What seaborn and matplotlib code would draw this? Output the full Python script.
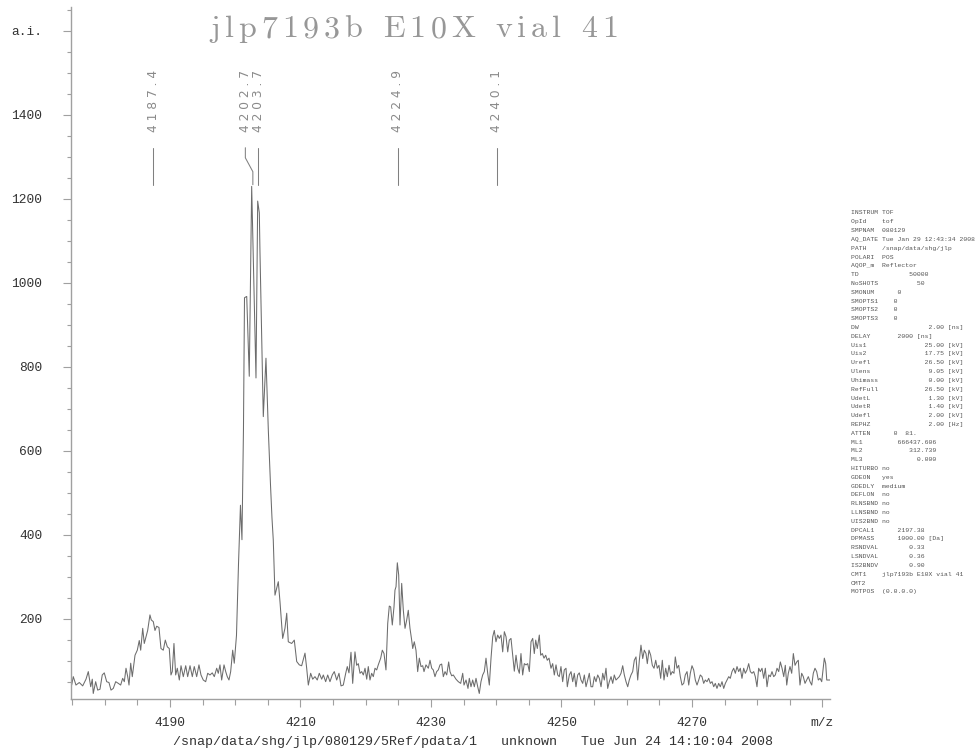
import matplotlib
matplotlib.use("Agg")
import matplotlib.pyplot as plt
from matplotlib.ticker import FixedLocator, MultipleLocator
import seaborn as sns

# ---- spectrum: m/z and intensity (a.i.) ----
mz = [4174.93, 4175.18, 4175.59, 4176.10, 4176.62, 4177.13, 4177.48, 4177.85, 4178.09, 4178.24,
      4178.61, 4178.92, 4179.27, 4179.62, 4179.93, 4180.30, 4180.65, 4180.96, 4181.31, 4181.68,
      4182.08, 4182.44, 4182.75, 4183.00, 4183.26, 4183.52, 4183.72, 4183.98, 4184.22, 4184.64,
      4184.99, 4185.29, 4185.51, 4185.82, 4186.06, 4186.32, 4186.58, 4186.93, 4187.13, 4187.44,
      4187.70, 4187.96, 4188.31, 4188.62, 4188.97, 4189.28, 4189.59, 4189.89, 4190.15, 4190.35,
      4190.61, 4190.87, 4191.12, 4191.43, 4191.69, 4192.04, 4192.41, 4192.71, 4193.07, 4193.42,
      4193.72, 4194.09, 4194.44, 4194.75, 4195.10, 4195.47, 4195.78, 4196.13, 4196.48, 4196.79,
      4197.16, 4197.40, 4197.66, 4197.92, 4198.28, 4198.54, 4198.78, 4199.04, 4199.30, 4199.61,
      4199.85, 4200.19, 4200.50, 4200.80, 4201.03, 4201.26, 4201.42, 4201.76, 4202.15, 4202.52,
      4203.18, 4203.44, 4203.69, 4203.79, 4204.30, 4204.71, 4205.07, 4205.40, 4205.63, 4205.83,
      4206.09, 4206.60, 4206.86, 4207.27, 4207.62, 4207.89, 4208.13, 4208.65, 4209.05, 4209.42,
      4209.82, 4210.18, 4210.69, 4210.95, 4211.20, 4211.56, 4211.87, 4212.22, 4212.57, 4212.88,
      4213.25, 4213.50, 4213.86, 4214.17, 4214.52, 4214.87, 4215.18, 4215.55, 4215.90, 4216.21,
      4216.56, 4216.93, 4217.17, 4217.43, 4217.74, 4218.00, 4218.35, 4218.61, 4218.86, 4219.12,
      4219.38, 4219.63, 4219.89, 4220.15, 4220.39, 4220.65, 4220.91, 4221.16, 4221.42, 4221.68,
      4221.92, 4222.29, 4222.54, 4222.80, 4223.10, 4223.37, 4223.61, 4223.82, 4224.07, 4224.33,
      4224.48, 4224.64, 4224.84, 4225.05, 4225.25, 4225.51, 4225.76, 4226.02, 4226.28, 4226.52,
      4226.78, 4227.04, 4227.20, 4227.44, 4227.70, 4227.96, 4228.21, 4228.47, 4228.73, 4228.93,
      4229.23, 4229.59, 4229.85, 4230.11, 4230.35, 4230.61, 4230.87, 4231.12, 4231.38, 4231.64,
      4231.89, 4232.15, 4232.41, 4232.71, 4232.91, 4233.17, 4233.42, 4233.83, 4234.19, 4234.55,
      4234.86, 4235.06, 4235.37, 4235.67, 4235.87, 4236.13, 4236.39, 4236.64, 4236.90, 4237.16,
      4237.40, 4237.66, 4237.92, 4238.17, 4238.43, 4238.69, 4238.94, 4239.20, 4239.46, 4239.70,
      4239.96, 4240.22, 4240.47, 4240.73, 4240.99, 4241.24, 4241.50, 4241.76, 4242.00, 4242.26,
      4242.52, 4242.77, 4243.03, 4243.29, 4243.54, 4243.79, 4244.05, 4244.30, 4244.56, 4244.82,
      4245.07, 4245.33, 4245.59, 4245.83, 4246.05, 4246.29, 4246.60, 4246.81, 4247.06, 4247.32,
      4247.58, 4247.82, 4248.09, 4248.39, 4248.65, 4248.90, 4249.16, 4249.42, 4249.66, 4249.92,
      4250.18, 4250.43, 4250.69, 4250.89, 4251.20, 4251.46, 4251.72, 4251.96, 4252.22, 4252.48,
      4252.73, 4252.99, 4253.25, 4253.50, 4253.76, 4254.02, 4254.26, 4254.52, 4254.78, 4255.03,
      4255.29, 4255.55, 4255.80, 4256.06, 4256.32, 4256.56, 4256.82, 4257.08, 4257.33, 4257.59,
      4257.85, 4258.09, 4258.35, 4258.61, 4258.86, 4259.12, 4259.38, 4259.63, 4259.89, 4260.15,
      4260.39, 4260.65, 4260.91, 4261.16, 4261.42, 4261.68, 4261.93, 4262.18, 4262.45, 4262.69,
      4262.95, 4263.15, 4263.41, 4263.67, 4263.92, 4264.18, 4264.44, 4264.68, 4264.94, 4265.20,
      4265.45, 4265.71, 4265.97, 4266.22, 4266.48, 4266.74, 4266.98, 4267.24, 4267.44, 4267.70,
      4267.96, 4268.21, 4268.47, 4268.73, 4268.97, 4269.24, 4269.50, 4269.74, 4270.00, 4270.26,
      4270.51, 4270.77, 4271.03, 4271.27, 4271.53, 4271.79, 4272.04, 4272.30, 4272.56, 4272.81,
      4273.07, 4273.33, 4273.57, 4273.83, 4274.09, 4274.34, 4274.60, 4274.86, 4275.11, 4275.37,
      4275.63, 4275.87, 4276.13, 4276.39, 4276.64, 4276.90, 4277.16, 4277.40, 4277.66, 4277.92,
      4278.17, 4278.43, 4278.69, 4278.94, 4279.20, 4279.46, 4279.70, 4279.96, 4280.22, 4280.47,
      4280.73, 4280.99, 4281.24, 4281.50, 4281.76, 4282.00, 4282.26, 4282.52, 4282.77, 4283.03,
      4283.29, 4283.54, 4283.80, 4284.06, 4284.30, 4284.52, 4284.76, 4285.02, 4285.28, 4285.53,
      4285.79, 4286.05, 4286.29, 4286.55, 4286.81, 4287.06, 4287.32, 4287.58, 4287.83, 4288.09,
      4288.35, 4288.59, 4288.85, 4289.11, 4289.36, 4289.62, 4289.88, 4290.13, 4290.28, 4290.49,
      4290.65, 4291.15]

intensity = [42, 62, 42, 48, 40, 56, 74, 38, 56, 22,
             50, 30, 32, 66, 71, 50, 48, 30, 34, 50,
             46, 42, 58, 50, 82, 62, 42, 94, 62, 113,
             125, 148, 125, 177, 141, 157, 172, 209, 197, 193,
             172, 182, 179, 129, 125, 149, 133, 129, 66, 74,
             141, 66, 82, 54, 88, 62, 88, 62, 88, 62,
             86, 62, 90, 66, 54, 50, 70, 66, 71, 62,
             82, 70, 90, 54, 90, 74, 62, 54, 74, 125,
             94, 160, 330, 470, 388, 650, 964, 967, 777, 1229,
             773, 1194, 1166, 1074, 681, 820, 649, 520, 440, 387,
             256, 288, 240, 153, 177, 213, 145, 141, 149, 98,
             90, 88, 118, 82, 42, 70, 56, 62, 54, 70,
             56, 66, 50, 66, 50, 66, 74, 54, 70, 40,
             42, 70, 86, 71, 120, 46, 121, 89, 93, 70,
             74, 66, 82, 56, 86, 54, 70, 62, 82, 78,
             90, 106, 125, 117, 78, 189, 230, 228, 185, 228,
             268, 276, 333, 304, 185, 284, 220, 177, 197, 220,
             177, 149, 129, 145, 125, 74, 106, 86, 88, 74,
             90, 82, 101, 82, 78, 62, 74, 78, 90, 92,
             62, 74, 66, 97, 74, 64, 66, 56, 50, 46,
             70, 42, 54, 34, 58, 38, 54, 38, 58, 38,
             22, 50, 66, 74, 106, 70, 42, 106, 157, 172,
             145, 161, 153, 161, 121, 169, 157, 121, 149, 153,
             113, 75, 113, 82, 70, 117, 66, 93, 90, 93,
             74, 145, 153, 117, 149, 129, 161, 113, 117, 106,
             113, 101, 106, 82, 93, 66, 90, 66, 62, 86,
             50, 78, 82, 38, 66, 74, 50, 70, 38, 66,
             71, 54, 46, 66, 38, 54, 70, 38, 38, 62,
             50, 66, 58, 38, 70, 54, 82, 34, 50, 62,
             46, 66, 54, 58, 62, 70, 88, 66, 50, 38,
             54, 66, 74, 101, 109, 54, 101, 137, 105, 125,
             117, 93, 125, 113, 89, 82, 101, 82, 89, 58,
             101, 54, 82, 62, 89, 66, 74, 70, 109, 82,
             89, 62, 42, 46, 66, 74, 42, 70, 88, 78,
             54, 42, 54, 66, 62, 46, 54, 50, 58, 46,
             50, 38, 46, 34, 46, 38, 50, 34, 46, 54,
             62, 58, 74, 82, 70, 86, 74, 82, 58, 82,
             70, 78, 93, 74, 70, 74, 62, 38, 82, 74,
             82, 58, 82, 38, 66, 62, 74, 62, 66, 82,
             74, 97, 82, 62, 89, 42, 70, 86, 70, 117,
             89, 97, 101, 42, 70, 62, 46, 54, 62, 50,
             42, 70, 82, 74, 54, 58, 50, 86, 106, 93,
             54, 54]

# ---- annotated peaks ----
peak_mz = [4187.4, 4202.7, 4203.7, 4224.9, 4240.1]
peak_label_shift = [0.0, -1.15, -0.2, 0.0, 0.0]  # sideways nudge so close labels do not collide

# ---- axis ticks ----
x_major = [4190, 4210, 4230, 4250, 4270, 4290]
x_major_labels = ["4190", "4210", "4230", "4250", "4270", "m/z"]
y_major = [200, 400, 600, 800, 1000, 1200, 1400, 1600]
y_major_labels = ["200", "400", "600", "800", "1000", "1200", "1400", "a.i."]

title = "jlp7193b E10X vial 41"
footer = "/snap/data/shg/jlp/080129/5Ref/pdata/1   unknown   Tue Jun 24 14:10:04 2008"

acq_params = [
    "INSTRUM TOF",
    "OpId    tof",
    "SMPNAM  080129",
    "AQ_DATE Tue Jan 29 12:43:34 2008",
    "PATH    /snap/data/shg/jlp",
    "POLARI  POS",
    "AQOP_m  Reflector",
    "TD             50000",
    "NoSHOTS          50",
    "SMONUM      0",
    "SMOPTS1    0",
    "SMOPTS2    0",
    "SMOPTS3    0",
    "DW                  2.00 [ns]",
    "DELAY       2000 [ns]",
    "Uis1               25.00 [kV]",
    "Uis2               17.75 [kV]",
    "Urefl              26.50 [kV]",
    "Ulens               9.05 [kV]",
    "Uhimass             0.00 [kV]",
    "RefFull            26.50 [kV]",
    "UdetL               1.30 [kV]",
    "UdetR               1.40 [kV]",
    "Udefl               2.00 [kV]",
    "REPHZ               2.00 [Hz]",
    "ATTEN      0  81.",
    "ML1         666437.606",
    "ML2            312.739",
    "ML3              0.000",
    "HITURBO no",
    "GDEON   yes",
    "GDEDLY  medium",
    "DEFLON  no",
    "RLNSBND no",
    "LLNSBND no",
    "UIS2BND no",
    "DPCAL1      2197.38",
    "DPMASS      1000.00 [Da]",
    "RSNDVAL        0.33",
    "LSNDVAL        0.36",
    "IS2BNDV        0.90",
    "CMT1    jlp7193b E10X vial 41",
    "CMT2",
    "MOTPOS  (0.0.0.0)",
]

# ---- figure ----
W, H = 979, 755
DPI = 100
sns.set_style("ticks")
plt.rcParams["font.family"] = ["Liberation Mono", "DejaVu Sans"]

fig = plt.figure(figsize=(W / DPI, H / DPI), dpi=DPI)
ax = fig.add_axes([71 / W, 1 - 699 / H, (830 - 71) / W, (699 - 7) / H])

trace_color = "#6c6c6c"
axis_color = "#a0a0a0"
sns.lineplot(x=mz, y=intensity, ax=ax, color=trace_color, linewidth=0.75,
             estimator=None, sort=False)

ax.set_xlim(4174.83, 4291.15)
ax.set_ylim(8.8, 1656)
ax.set_xlabel("")
ax.set_ylabel("")

for side in ("top", "right"):
    ax.spines[side].set_visible(False)
for side in ("left", "bottom"):
    ax.spines[side].set_color(axis_color)
    ax.spines[side].set_linewidth(1.0)

ax.xaxis.set_major_locator(FixedLocator(x_major))
ax.xaxis.set_minor_locator(MultipleLocator(5))
ax.set_xticklabels(x_major_labels)
ax.yaxis.set_major_locator(FixedLocator(y_major))
ax.yaxis.set_minor_locator(MultipleLocator(50))
ax.set_yticklabels(y_major_labels)

ax.tick_params(axis="x", which="major", length=5.8, width=0.8, color=axis_color,
               pad=7, labelsize=9.3, labelcolor="#333333")
ax.tick_params(axis="x", which="minor", length=4.3, width=0.8, color=axis_color)
ax.tick_params(axis="y", which="major", length=5.5, width=0.8, color=axis_color,
               pad=15, labelsize=9.3, labelcolor="#333333")
ax.tick_params(axis="y", which="minor", length=3.1, width=0.8, color=axis_color)

# ---- peak markers with rotated mass labels ----
mark_top, mark_bend_hi, mark_bend_lo, mark_bottom = 1321, 1297, 1264, 1233
label_base = 1359
for m, shift in zip(peak_mz, peak_label_shift):
    if abs(shift) > 0.5:
        xs = [m + shift, m + shift, m, m]
        ys = [mark_top, mark_bend_hi, mark_bend_lo, mark_bottom]
    else:
        xs = [m + shift, m + shift]
        ys = [mark_top, mark_bottom]
    ax.plot(xs, ys, color="#808080", linewidth=0.75, clip_on=False)
    ax.text(m + shift, label_base, " ".join(f"{m:.1f}"), rotation=90,
            ha="center", va="bottom", fontsize=8.8, color="#8a8a8a",
            family=["DejaVu Sans"])

# ---- letter-spaced title ----
def spaced_text(text, center_px, baseline_px, total_px, size, color, family):
    renderer = fig.canvas.get_renderer()
    em = size * DPI / 72.0
    pieces = []
    for ch in text:
        if ch == " ":
            pieces.append((None, 0.333 * em))
        else:
            t = fig.text(0, 0, ch, fontsize=size, color=color, family=family,
                         va="baseline", ha="left")
            w = t.get_window_extent(renderer).width
            pieces.append((t, w))
    widths = sum(w for _, w in pieces)
    gap = (total_px - widths) / (len(pieces) - 1)
    x = center_px - total_px / 2
    for t, w in pieces:
        if t is not None:
            t.set_position((x / W, 1 - baseline_px / H))
        x += w + gap

spaced_text(title, 414, 37, 408, 23, "#979797", ["cmr10"])

# ---- footer and acquisition parameter block ----
fig.text(173 / W, 1 - 742 / H, footer, fontsize=9.65, color="#333333",
         ha="left", va="center")

line_step = 8.81
for i, line in enumerate(acq_params):
    fig.text(851 / W, 1 - (213 + i * line_step) / H, line, fontsize=4.6,
             color="#555555", ha="left", va="center")

fig.savefig("out.png", dpi=DPI)
